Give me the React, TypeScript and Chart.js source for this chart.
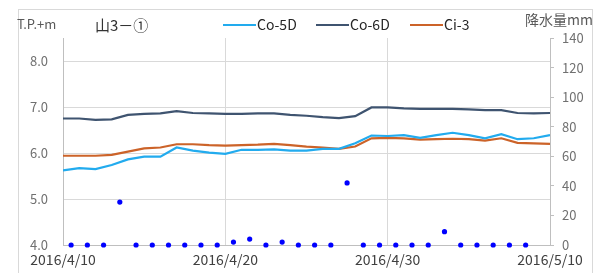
import React, { useEffect, useRef } from "react";
import { Chart, registerables } from "chart.js";

Chart.register(...registerables);

// ---- data ----
const xTickLabels = ["2016/4/10", "2016/4/20", "2016/4/30", "2016/5/10"];

// daily water levels (T.P.+m) from 2016/4/10 to 2016/5/10
const co5d = [5.62, 5.67, 5.65, 5.74, 5.86, 5.92, 5.92, 6.12, 6.05, 6.01, 5.98, 6.07, 6.07, 6.08, 6.05, 6.05, 6.09, 6.09, 6.21, 6.38, 6.37, 6.39, 6.33, 6.39, 6.44, 6.39, 6.32, 6.41, 6.30, 6.32, 6.39];
const co6d = [6.75, 6.75, 6.72, 6.73, 6.83, 6.85, 6.86, 6.91, 6.87, 6.86, 6.85, 6.85, 6.86, 6.86, 6.83, 6.81, 6.78, 6.76, 6.80, 6.99, 6.99, 6.97, 6.96, 6.96, 6.96, 6.95, 6.93, 6.93, 6.87, 6.86, 6.87];
const ci3 = [5.94, 5.94, 5.94, 5.96, 6.03, 6.10, 6.12, 6.19, 6.19, 6.17, 6.16, 6.17, 6.18, 6.20, 6.17, 6.14, 6.12, 6.09, 6.14, 6.32, 6.33, 6.32, 6.29, 6.30, 6.31, 6.30, 6.27, 6.32, 6.22, 6.21, 6.20];

// daily rainfall (mm) 2016/4/10 .. 2016/5/8
const rain = [0, 0, 0, 29, 0, 0, 0, 0, 0, 0, 2, 4, 0, 2, 0, 0, 0, 42, 0, 0, 0, 0, 0, 9, 0, 0, 0, 0, 0];

const seriesNames = ["Co-5D", "Co-6D", "Ci-3"];
const seriesColors = ["#22ABEE", "#3F5470", "#CC6329"];

const FONT = "'Noto Sans CJK JP', 'Noto Sans', sans-serif";

const overlayPlugin = {
  id: "overlay",
  afterDraw(chart: any) {
    const ctx = chart.ctx as CanvasRenderingContext2D;
    ctx.save();
    // outer frame
    ctx.strokeStyle = "#D9D9D9";
    ctx.lineWidth = 1;
    ctx.strokeRect(18.5, 9.5, 574, 300);

    ctx.textBaseline = "middle";
    // left axis title
    ctx.fillStyle = "#595959";
    ctx.font = `13px ${FONT}`;
    ctx.textAlign = "left";
    ctx.fillText("T.P.+m", 17, 24);
    // chart title
    ctx.fillStyle = "#333333";
    ctx.font = `15px ${FONT}`;
    ctx.fillText("山3－①", 95, 25);
    // right axis title
    ctx.fillStyle = "#595959";
    ctx.font = `14px ${FONT}`;
    ctx.fillText("降水量mm", 525, 20);

    // legend
    const legendX = [223, 316, 410];
    ctx.font = `14px ${FONT}`;
    seriesNames.forEach((name, i) => {
      const x0 = legendX[i];
      ctx.strokeStyle = seriesColors[i];
      ctx.lineWidth = 2.2;
      ctx.beginPath();
      ctx.moveTo(x0, 25);
      ctx.lineTo(x0 + 33, 25);
      ctx.stroke();
      ctx.fillStyle = "#262626";
      ctx.fillText(name, x0 + 34, 25);
    });
    ctx.restore();
  },
};

export default function App() {
  const ref = useRef<HTMLCanvasElement | null>(null);

  useEffect(() => {
    const canvas = ref.current;
    if (!canvas) return;
    const levelSeries = [co5d, co6d, ci3];
    const datasets: any[] = levelSeries.map((vals, i) => ({
      label: seriesNames[i],
      data: vals.map((v, d) => ({ x: d, y: v })),
      borderColor: seriesColors[i],
      backgroundColor: seriesColors[i],
      borderWidth: 2.2,
      pointRadius: 0,
      tension: 0,
      yAxisID: "y",
      order: 2,
    }));
    datasets.push({
      label: "rain",
      data: rain.map((v, d) => ({ x: d + 0.5, y: v })),
      showLine: false,
      pointRadius: 2.6,
      pointBorderWidth: 0,
      pointBackgroundColor: "#0000FF",
      pointBorderColor: "#0000FF",
      yAxisID: "y1",
      clip: false,
      order: 1,
    });

    const chart = new Chart(canvas, {
      type: "line",
      data: { datasets },
      options: {
        animation: false,
        responsive: false,
        devicePixelRatio: 1,
        layout: { padding: { top: 38, left: 0, right: 0, bottom: 0 } },
        plugins: {
          legend: { display: false },
          tooltip: { enabled: false },
          title: { display: false },
        },
        scales: {
          x: {
            type: "linear",
            min: 0,
            max: 30,
            afterFit: (s: any) => {
              s.height = 28;
            },
            grid: { color: "#D9D9D9", drawTicks: false, lineWidth: 1 },
            border: { display: true, color: "#BFBFBF" },
            ticks: {
              stepSize: 10,
              padding: 6,
              autoSkip: false,
              maxRotation: 0,
              color: "#404040",
              font: { family: FONT, size: 14 },
              callback: (v: any) => xTickLabels[Math.round(Number(v) / 10)] ?? "",
            },
          },
          y: {
            type: "linear",
            position: "left",
            min: 4,
            max: 8.5,
            afterFit: (s: any) => {
              s.width = 63;
            },
            grid: { color: "#D9D9D9", drawTicks: false },
            border: { display: true, color: "#BFBFBF" },
            ticks: {
              stepSize: 1,
              includeBounds: false,
              padding: 15,
              color: "#707070",
              font: { family: FONT, size: 13 },
              callback: (v: any) => Number(v).toFixed(1),
            },
          },
          y1: {
            type: "linear",
            position: "right",
            min: 0,
            max: 140,
            afterFit: (s: any) => {
              s.width = 52;
            },
            grid: { drawOnChartArea: false, drawTicks: true, tickLength: 4, color: "#BFBFBF" },
            border: { display: true, color: "#BFBFBF" },
            ticks: {
              stepSize: 20,
              padding: 8,
              color: "#707070",
              font: { family: FONT, size: 13 },
            },
          },
        },
      } as any,
      plugins: [overlayPlugin],
    });
    return () => chart.destroy();
  }, []);

  return (
    <div style={{ position: "fixed", left: 0, top: 0, width: 602, height: 273, background: "#fff" }}>
      <canvas ref={ref} width={602} height={273} style={{ display: "block", width: 602, height: 273 }} />
    </div>
  );
}
